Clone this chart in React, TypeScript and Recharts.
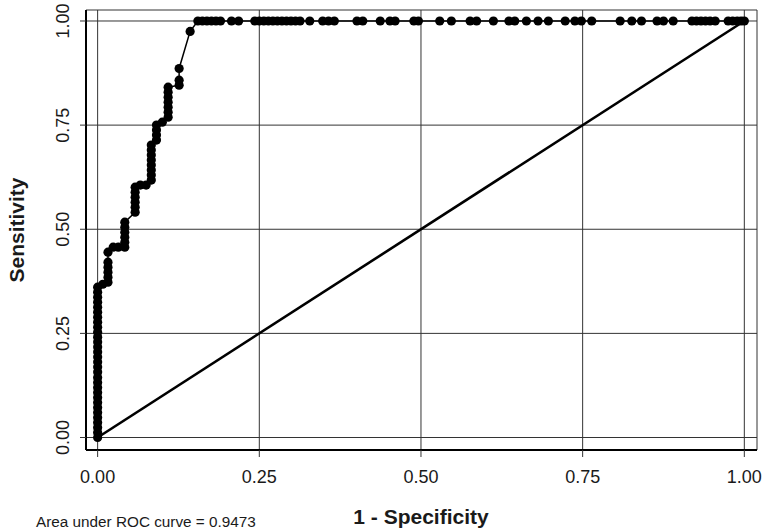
// ROC curve (Stata lroc style) with recharts: step curve with markers plus the 45° reference line.

import { CartesianGrid, Line, LineChart, XAxis, YAxis } from "recharts";

// 1 - specificity (false positive rate) of each cut-off, in order
const fpr = [
  0, 0, 0, 0, 0, 0, 0, 0, 0, 0, 0, 0, 0, 0, 0, 0, 0, 0, 0, 0, 0, 0, 0, 0, 0, 0, 0, 0, 0, 0, 0,
  0.008, 0.016, 0.016, 0.016, 0.016, 0.016, 0.016, 0.024, 0.032, 0.042,
  0.042, 0.042, 0.042, 0.042, 0.042,
  0.058, 0.058, 0.058, 0.058, 0.058, 0.058, 0.066, 0.075, 0.083,
  0.083, 0.083, 0.083, 0.083, 0.083, 0.083, 0.083,
  0.091, 0.091, 0.091, 0.091, 0.1, 0.109, 0.109, 0.109, 0.109, 0.109, 0.109, 0.109,
  0.126, 0.126, 0.126, 0.143,
  0.155, 0.162, 0.169, 0.176, 0.183, 0.19, 0.207, 0.218, 0.243, 0.25, 0.257, 0.264, 0.271,
  0.278, 0.285, 0.292, 0.299, 0.306, 0.313, 0.328, 0.348, 0.357, 0.366, 0.401, 0.41, 0.437,
  0.452, 0.46, 0.489, 0.496, 0.529, 0.547, 0.576, 0.586, 0.612, 0.636, 0.645, 0.663, 0.681,
  0.697, 0.723, 0.738, 0.748, 0.764, 0.808, 0.826, 0.841, 0.865, 0.875, 0.89, 0.919, 0.926,
  0.933, 0.94, 0.947, 0.955, 0.975, 0.982, 0.989, 0.995, 1,
];

// sensitivity (true positive rate) of each cut-off
const tpr = [
  0, 0.012, 0.024, 0.036, 0.048, 0.06, 0.072, 0.084, 0.096, 0.108, 0.12, 0.132, 0.144, 0.157,
  0.169, 0.181, 0.193, 0.205, 0.217, 0.229, 0.241, 0.253, 0.265, 0.277, 0.289, 0.301, 0.313,
  0.325, 0.337, 0.349, 0.361,
  0.368, 0.373, 0.385, 0.397, 0.409, 0.421, 0.445, 0.457, 0.457, 0.457,
  0.469, 0.481, 0.493, 0.505, 0.517,
  0.541, 0.553, 0.565, 0.577, 0.589, 0.601, 0.606, 0.606, 0.618,
  0.63, 0.642, 0.654, 0.666, 0.678, 0.69, 0.702,
  0.714, 0.726, 0.738, 0.75, 0.757, 0.769, 0.781, 0.793, 0.805, 0.817, 0.829, 0.841,
  0.846, 0.858, 0.886, 0.975,
  1, 1, 1, 1, 1, 1, 1, 1, 1, 1, 1, 1, 1,
  1, 1, 1, 1, 1, 1, 1, 1, 1, 1, 1, 1, 1,
  1, 1, 1, 1, 1, 1, 1, 1, 1, 1, 1, 1, 1,
  1, 1, 1, 1, 1, 1, 1, 1, 1, 1, 1, 1, 1,
  1, 1, 1, 1, 1, 1, 1, 1, 1, 1, 1, 1, 1,
];

// 45° line of no discrimination
const diagX = [0, 1];
const diagY = [0, 1];

const xTicks = [0, 0.25, 0.5, 0.75, 1];
const yTicks = [0, 0.25, 0.5, 0.75, 1];
const aucText = "Area under ROC curve = 0.9473";

const roc = fpr.map((x, i) => ({ x, y: tpr[i] }));
const diag = diagX.map((x, i) => ({ x, y: diagY[i] }));

const font = "'Liberation Sans', Arial, Helvetica, sans-serif";
const textFill = "#1a1a1a";
const gridStroke = "#333";

function XTick({ x, y, payload }: any) {
  return (
    <text x={x} y={y + 24} textAnchor="middle" fontSize={18} fontFamily={font} fill={textFill}>
      {Number(payload.value).toFixed(2)}
    </text>
  );
}

function YTick({ x, y, payload }: any) {
  const bx = x - 9;
  return (
    <text x={bx} y={y} transform={`rotate(-90, ${bx}, ${y})`} textAnchor="middle"
          fontSize={18} fontFamily={font} fill={textFill}>
      {Number(payload.value).toFixed(2)}
    </text>
  );
}

export default function App() {
  return (
    <div style={{ position: "absolute", left: 0, top: 0, width: 764, height: 530, background: "#fff" }}>
      <LineChart width={764} height={530} margin={{ top: 10, right: 7, bottom: 0, left: 0 }}>
        <CartesianGrid stroke={gridStroke} strokeWidth={1} />
        <XAxis type="number" dataKey="x" domain={[-0.018, 1.0196]} ticks={xTicks} allowDataOverflow
               height={80} tickSize={7} tick={<XTick />}
               axisLine={{ stroke: "#000", strokeWidth: 2 }} tickLine={{ stroke: gridStroke }} />
        <YAxis type="number" dataKey="y" domain={[-0.03, 1.0264]} ticks={yTicks} allowDataOverflow
               width={86} tickSize={6} tick={<YTick />}
               axisLine={{ stroke: "#000", strokeWidth: 2 }} tickLine={{ stroke: gridStroke }} />
        <Line data={diag} dataKey="y" type="linear" stroke="#000" strokeWidth={2.6}
              dot={false} activeDot={false} isAnimationActive={false} />
        <Line data={roc} dataKey="y" type="linear" stroke="#000" strokeWidth={1.5}
              dot={{ r: 4.6, fill: "#000", stroke: "none" }} activeDot={false} isAnimationActive={false} />
      </LineChart>
      <svg width={764} height={530} style={{ position: "absolute", left: 0, top: 0, pointerEvents: "none" }}>
        <text x={421} y={524} textAnchor="middle" fontSize={21} fontWeight="bold" fontFamily={font} fill={textFill}>
          1 - Specificity
        </text>
        <text x={24} y={230} transform="rotate(-90, 24, 230)" textAnchor="middle" fontSize={21}
              fontWeight="bold" fontFamily={font} fill={textFill}>
          Sensitivity
        </text>
        <text x={36} y={527} fontSize={15.3} fontFamily={font} fill={textFill}>
          {aucText}
        </text>
      </svg>
    </div>
  );
}
